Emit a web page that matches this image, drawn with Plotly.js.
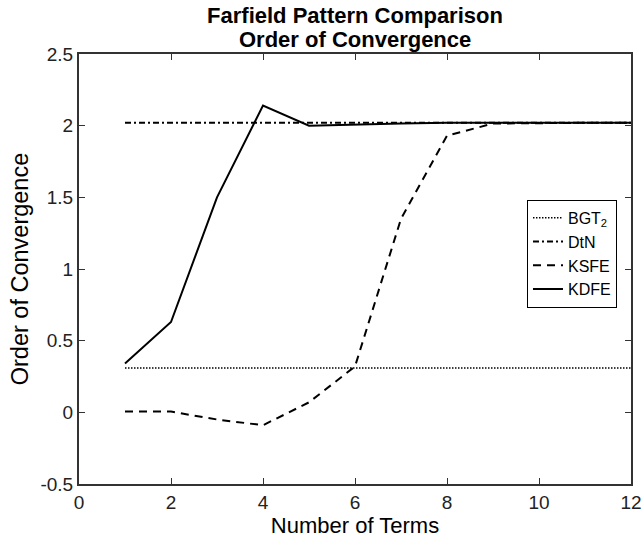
<!DOCTYPE html>
<html>
<head>
<meta charset="utf-8">
<script src="https://cdn.plot.ly/plotly-3.0.1.min.js"></script>
<style>html,body{margin:0;padding:0;background:#fff;}#chart{width:643px;height:540px;}</style>
</head>
<body>
<div id="chart"></div>
<script>
var terms = [1, 2, 3, 4, 5, 6, 7, 8, 9, 10, 11, 12];
var bgt2 = [0.31, 0.31, 0.31, 0.31, 0.31, 0.31, 0.31, 0.31, 0.31, 0.31, 0.31, 0.31];
var dtn = [2.02, 2.02, 2.02, 2.02, 2.02, 2.02, 2.02, 2.02, 2.02, 2.02, 2.02, 2.02];
var ksfe = [0.005, 0.005, -0.05, -0.09, 0.07, 0.32, 1.35, 1.93, 2.015, 2.02, 2.02, 2.02];
var kdfe = [0.34, 0.63, 1.50, 2.14, 2.00, 2.01, 2.015, 2.02, 2.02, 2.02, 2.02, 2.02];
var names = ['BGT<sub>2</sub>', 'DtN', 'KSFE', 'KDFE'];
var xTicks = [0, 2, 4, 6, 8, 10, 12];
var yTicks = [-0.5, 0, 0.5, 1, 1.5, 2, 2.5];
var titleLines = ['Farfield Pattern Comparison', 'Order of Convergence'];

var FONT = 'Liberation Sans, Arial, Helvetica, sans-serif';

var traces = [
  {x: terms, y: bgt2, name: names[0], mode: 'lines', line: {color: '#000', width: 1.5, dash: '1.5px,1.5px'}},
  {x: terms, y: dtn, name: names[1], mode: 'lines', line: {color: '#000', width: 2, dash: '6px,3px,2px,3px'}},
  {x: terms, y: ksfe, name: names[2], mode: 'lines', line: {color: '#000', width: 2, dash: '8px,6px'}},
  {x: terms, y: kdfe, name: names[3], mode: 'lines', line: {color: '#000', width: 2}}
];

var axisCommon = {
  showgrid: false, zeroline: false, showline: true, linecolor: '#333', linewidth: 2,
  mirror: 'ticks', ticks: 'inside', ticklen: 6, tickcolor: '#333', tickwidth: 1,
  tickfont: {family: FONT, size: 19, color: '#222'}
};

var layout = {
  width: 643, height: 540,
  margin: {l: 79, r: 12, t: 54, b: 56},
  paper_bgcolor: '#fff', plot_bgcolor: '#fff',
  font: {family: FONT, color: '#000'},
  title: {
    text: '<b>' + titleLines[0] + '</b>',
    font: {family: FONT, size: 22, color: '#000'},
    x: 0.5, xref: 'paper', xanchor: 'center', y: 1 - 15/540, yref: 'container', yanchor: 'middle'
  },
  annotations: [{
    text: '<b>' + titleLines[1] + '</b>', showarrow: false,
    xref: 'paper', yref: 'paper', x: 0.5, y: 1 + (54 - 39.5)/430.5, xanchor: 'center', yanchor: 'middle',
    font: {family: FONT, size: 22, color: '#000'}
  }],
  xaxis: Object.assign({}, axisCommon, {
    range: [0, 12], tickvals: xTicks, ticktext: xTicks.map(String),
    title: {text: 'Number of Terms', font: {family: FONT, size: 22, color: '#000'}, standoff: 2}
  }),
  yaxis: Object.assign({}, axisCommon, {
    range: [-0.5, 2.5], tickvals: yTicks, ticktext: yTicks.map(String),
    title: {text: 'Order of Convergence', font: {family: FONT, size: 23.5, color: '#000'}, standoff: 5}
  }),
  showlegend: true,
  legend: {
    x: 0.9746, xanchor: 'right', y: 0.661, yanchor: 'top',
    bgcolor: '#fff', bordercolor: '#000', borderwidth: 1,
    font: {family: FONT, size: 16, color: '#000'},
    tracegroupgap: 0, itemwidth: 30
  }
};

Plotly.newPlot('chart', traces, layout, {displayModeBar: false, staticPlot: true});
</script>
</body>
</html>
